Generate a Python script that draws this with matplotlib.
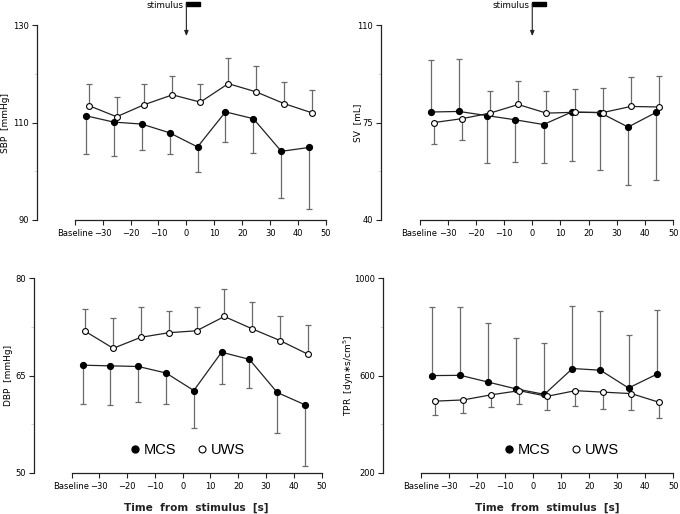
import matplotlib
matplotlib.use('Agg')

import matplotlib.pyplot as plt
import matplotlib.transforms as mtransforms
from matplotlib.patches import Rectangle
from matplotlib.lines import Line2D
import numpy as np

# time points (s); MCS is drawn 1 s to the left of UWS
time = [-35, -25, -15, -5, 5, 15, 25, 35, 45]
x_ticks = [-40, -30, -20, -10, 0, 10, 20, 30, 40, 50]
x_labels = ['Baseline', '\u221230', '\u221220', '\u221210', '0', '10', '20', '30', '40', '50']

# SBP [mmHg]
sbp_mcs = [111.4, 110.1, 109.7, 107.9, 105.0, 112.2, 110.8, 104.1, 104.9]
sbp_mcs_sd = [7.9, 6.9, 5.4, 4.4, 5.1, 6.1, 7.0, 9.6, 12.6]
sbp_uws = [113.5, 111.2, 113.7, 115.7, 114.2, 118.0, 116.3, 113.9, 112.0]
sbp_uws_sd = [4.5, 4.0, 4.3, 3.8, 3.8, 5.2, 5.3, 4.4, 4.6]

# SV [mL]
sv_mcs = [78.8, 79.0, 77.5, 76.0, 74.3, 78.8, 78.6, 73.4, 78.7]
sv_mcs_sd = [18.6, 18.7, 17.0, 15.1, 14.0, 17.5, 20.5, 20.7, 24.2]
sv_uws = [75.0, 76.4, 78.4, 81.5, 78.4, 78.7, 78.6, 80.8, 80.6]
sv_uws_sd = [7.8, 7.5, 8.0, 8.6, 8.0, 8.5, 9.0, 10.7, 11.3]

# DBP [mmHg]
dbp_mcs = [66.6, 66.5, 66.4, 65.4, 62.7, 68.6, 67.5, 62.4, 60.5]
dbp_mcs_sd = [5.9, 6.1, 5.4, 4.7, 5.8, 4.9, 4.4, 6.3, 9.4]
dbp_uws = [71.8, 69.2, 70.9, 71.6, 71.9, 74.1, 72.2, 70.4, 68.3]
dbp_uws_sd = [3.4, 4.6, 4.6, 3.4, 3.6, 4.2, 4.2, 3.7, 4.5]

# TPR [dyn*s/cm5]
tpr_mcs = [600, 601, 573, 545, 523, 629, 622, 549, 605]
tpr_mcs_sd = [281, 281, 242, 211, 209, 256, 244, 217, 263]
tpr_uws = [495, 500, 521, 538, 515, 538, 532, 526, 490]
tpr_uws_sd = [58, 53, 51, 56, 57, 63, 69, 68, 64]

plt.rcParams['font.family'] = ['DejaVu Sans']

fig = plt.figure(figsize=(6.8, 5.14), dpi=100)
ax_sbp = fig.add_axes([0.0544, 0.572, 0.425, 0.379])
ax_sv = fig.add_axes([0.561, 0.572, 0.429, 0.379])
ax_dbp = fig.add_axes([0.050, 0.0798, 0.423, 0.379])
ax_tpr = fig.add_axes([0.5637, 0.0798, 0.4265, 0.379])


def one_sided(sd, direction):
    sd = np.asarray(sd, dtype=float)
    d = np.asarray(direction)
    return [np.where(d < 0, sd, 0), np.where(d > 0, sd, 0)]


def panel(ax, mcs, mcs_sd, mcs_dir, uws, uws_sd, uws_dir, ylim, ylabel, label_x):
    t = np.array(time)
    ax.errorbar(t - 1, mcs, yerr=one_sided(mcs_sd, mcs_dir), fmt='none',
                ecolor='#6a6a6a', elinewidth=0.9, capsize=2.2, capthick=0.9, zorder=1)
    ax.errorbar(t, uws, yerr=one_sided(uws_sd, uws_dir), fmt='none',
                ecolor='#6a6a6a', elinewidth=0.9, capsize=2.2, capthick=0.9, zorder=1)
    ax.plot(t - 1, mcs, '-o', color='#222222', lw=0.9, ms=4.2,
            mfc='black', mec='black', zorder=3)
    ax.plot(t, uws, '-o', color='#222222', lw=0.9, ms=4.2,
            mfc='white', mec='black', mew=0.8, zorder=4)

    lo, hi = ylim
    ax.set_ylim(lo, hi)
    ax.set_yticks([lo, (lo + hi) / 2, hi])
    ax.set_yticks([(3 * lo + hi) / 4, (lo + 3 * hi) / 4], minor=True)
    ax.set_xlim(-53.5, 50)
    ax.set_xticks(x_ticks)
    ax.set_xticklabels(x_labels)

    for s in ['top', 'right']:
        ax.spines[s].set_visible(False)
    ax.spines['bottom'].set_bounds(-40, 50)
    for s in ['left', 'bottom']:
        ax.spines[s].set_linewidth(0.9)
        ax.spines[s].set_color('#222222')
    ax.tick_params(axis='both', which='major', labelsize=6, length=3.5,
                   width=0.8, color='#222222', direction='out')
    ax.tick_params(axis='x', pad=3)
    ax.tick_params(axis='y', pad=2.5)
    ax.tick_params(axis='y', which='minor', length=2, width=0.6, color='#cccccc')
    ax.set_ylabel(ylabel, fontsize=6.5, va='center')
    ax.yaxis.set_label_coords(label_x, 0.5)


def stimulus(ax):
    trans = mtransforms.blended_transform_factory(ax.transData, ax.transAxes)
    ax.add_patch(Rectangle((0, 1.097), 5, 0.022, transform=trans,
                           color='black', clip_on=False))
    ax.annotate('', xy=(0, 0.944), xycoords=trans, xytext=(0, 1.11), textcoords=trans,
                arrowprops=dict(arrowstyle='-|>,head_length=0.3,head_width=0.12',
                                color='#222222', lw=0.8, shrinkA=0, shrinkB=0))
    ax.text(-1, 1.102, 'stimulus', transform=trans, fontsize=6.3,
            ha='right', va='center')


def legend(ax, xpos):
    handles = [Line2D([], [], ls='none', marker='o', ms=5, mfc='black', mec='black'),
               Line2D([], [], ls='none', marker='o', ms=5, mfc='white', mec='black', mew=0.8)]
    ax.legend(handles, ['MCS', 'UWS'], ncol=2, frameon=False, loc='center',
              bbox_to_anchor=(xpos, 0.118), handletextpad=0.1, columnspacing=1.3,
              handlelength=1.0, prop={'family': 'Liberation Sans', 'size': 10.5})


panel(ax_sbp, sbp_mcs, sbp_mcs_sd, [-1] * 9, sbp_uws, sbp_uws_sd, [1] * 9,
      (90, 130), 'SBP  [mmHg]', -0.108)
panel(ax_sv, sv_mcs, sv_mcs_sd, [1, 1, -1, -1, -1, -1, -1, -1, -1],
      sv_uws, sv_uws_sd, [-1, -1, 1, 1, 1, 1, 1, 1, 1], (40, 110), 'SV  [mL]', -0.081)
panel(ax_dbp, dbp_mcs, dbp_mcs_sd, [-1] * 9, dbp_uws, dbp_uws_sd, [1] * 9,
      (50, 80), 'DBP  [mmHg]', -0.087)
panel(ax_tpr, tpr_mcs, tpr_mcs_sd, [1] * 9, tpr_uws, tpr_uws_sd, [-1] * 9,
      (200, 1000), 'TPR  [dyn\u2217s/cm$^5$]', -0.118)

stimulus(ax_sbp)
stimulus(ax_sv)
legend(ax_dbp, 0.53)
legend(ax_tpr, 0.61)

for ax in [ax_dbp, ax_tpr]:
    ax.set_xlabel('Time  from  stimulus  [s]', fontsize=7.6, fontweight='bold',
                  color='#222222', va='center')
    ax.xaxis.set_label_coords(0.565, -0.178)

fig.savefig('out.png', dpi=100)
